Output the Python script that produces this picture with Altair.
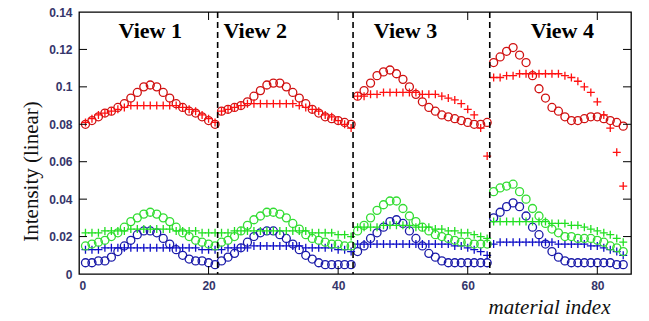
import altair as alt
import pandas as pd

# material index (21 materials per view, 4 views)
x_index = list(range(1, 85))

red_circles = [
    0.080, 0.082, 0.084, 0.086, 0.087, 0.089, 0.091, 0.094, 0.097, 0.100, 0.101,
    0.100, 0.097, 0.094, 0.091, 0.089, 0.087, 0.086, 0.084, 0.082, 0.080,
    0.087, 0.088, 0.089, 0.090, 0.092, 0.095, 0.098, 0.101, 0.102, 0.102, 0.100,
    0.097, 0.094, 0.091, 0.088, 0.086, 0.084, 0.083, 0.082, 0.081, 0.080,
    0.095, 0.098, 0.102, 0.106, 0.108, 0.109, 0.107, 0.104, 0.100, 0.096, 0.092,
    0.089, 0.087, 0.085, 0.084, 0.083, 0.082, 0.081, 0.080, 0.080, 0.081,
    0.113, 0.116, 0.119, 0.121, 0.117, 0.113, 0.106, 0.099, 0.094, 0.089, 0.087,
    0.084, 0.082, 0.082, 0.083, 0.084, 0.084, 0.083, 0.082, 0.081, 0.079,
]
red_plus = [
    0.081, 0.083, 0.085, 0.086, 0.087, 0.088, 0.089, 0.090, 0.090, 0.090, 0.090,
    0.090, 0.090, 0.090, 0.090, 0.089, 0.088, 0.087, 0.085, 0.083, 0.081,
    0.087, 0.088, 0.089, 0.090, 0.091, 0.091, 0.091, 0.091, 0.091, 0.091, 0.091,
    0.091, 0.090, 0.089, 0.088, 0.087, 0.085, 0.084, 0.082, 0.080, 0.078,
    0.095, 0.095, 0.096, 0.096, 0.097, 0.097, 0.097, 0.097, 0.097, 0.097, 0.096,
    0.096, 0.096, 0.095, 0.094, 0.093, 0.091, 0.088, 0.085, 0.078, 0.063,
    0.105, 0.105, 0.106, 0.106, 0.107, 0.107, 0.107, 0.107, 0.107, 0.107, 0.107,
    0.106, 0.105, 0.103, 0.100, 0.097, 0.092, 0.085, 0.078, 0.065, 0.047,
]
green_circles = [
    0.015, 0.016, 0.017, 0.018, 0.020, 0.022, 0.025, 0.028, 0.030, 0.032, 0.033,
    0.032, 0.030, 0.028, 0.025, 0.022, 0.020, 0.018, 0.017, 0.016, 0.015,
    0.017, 0.018, 0.020, 0.023, 0.026, 0.029, 0.031, 0.033, 0.033, 0.032, 0.030,
    0.027, 0.024, 0.021, 0.019, 0.018, 0.017, 0.016, 0.016, 0.015, 0.015,
    0.023, 0.026, 0.030, 0.034, 0.037, 0.039, 0.039, 0.035, 0.031, 0.028, 0.025,
    0.023, 0.021, 0.020, 0.019, 0.018, 0.017, 0.017, 0.016, 0.016, 0.016,
    0.044, 0.046, 0.047, 0.048, 0.044, 0.040, 0.035, 0.031, 0.027, 0.024, 0.022,
    0.020, 0.020, 0.019, 0.019, 0.019, 0.018, 0.017, 0.015, 0.014, 0.012,
]
green_plus = [
    0.022, 0.022, 0.022, 0.023, 0.023, 0.023, 0.023, 0.024, 0.024, 0.024, 0.024,
    0.024, 0.024, 0.024, 0.023, 0.023, 0.023, 0.023, 0.022, 0.022, 0.022,
    0.022, 0.022, 0.023, 0.023, 0.023, 0.023, 0.023, 0.023, 0.023, 0.023, 0.023,
    0.023, 0.023, 0.023, 0.022, 0.022, 0.022, 0.022, 0.021, 0.021, 0.020,
    0.025, 0.025, 0.025, 0.025, 0.026, 0.026, 0.026, 0.026, 0.026, 0.025, 0.025,
    0.025, 0.024, 0.024, 0.023, 0.023, 0.022, 0.022, 0.021, 0.020, 0.019,
    0.028, 0.028, 0.028, 0.028, 0.028, 0.028, 0.028, 0.028, 0.028, 0.027, 0.027,
    0.027, 0.026, 0.026, 0.025, 0.024, 0.023, 0.022, 0.021, 0.019, 0.017,
]
blue_circles = [
    0.006, 0.006, 0.007, 0.007, 0.009, 0.012, 0.015, 0.018, 0.021, 0.023, 0.023,
    0.022, 0.019, 0.016, 0.013, 0.010, 0.008, 0.007, 0.007, 0.006, 0.005,
    0.007, 0.009, 0.011, 0.014, 0.017, 0.020, 0.022, 0.023, 0.023, 0.021, 0.019,
    0.016, 0.013, 0.010, 0.008, 0.006, 0.005, 0.005, 0.005, 0.005, 0.005,
    0.012, 0.015, 0.019, 0.022, 0.025, 0.028, 0.029, 0.027, 0.023, 0.019, 0.015,
    0.011, 0.009, 0.007, 0.006, 0.006, 0.006, 0.006, 0.006, 0.006, 0.006,
    0.030, 0.033, 0.036, 0.038, 0.036, 0.031, 0.025, 0.021, 0.016, 0.012, 0.009,
    0.007, 0.006, 0.006, 0.006, 0.006, 0.006, 0.006, 0.006, 0.005, 0.005,
]
blue_plus = [
    0.013, 0.013, 0.013, 0.014, 0.014, 0.014, 0.014, 0.014, 0.014, 0.014, 0.014,
    0.014, 0.014, 0.014, 0.014, 0.014, 0.014, 0.014, 0.013, 0.013, 0.013,
    0.013, 0.014, 0.014, 0.014, 0.014, 0.015, 0.015, 0.015, 0.015, 0.015, 0.015,
    0.015, 0.015, 0.014, 0.014, 0.014, 0.014, 0.014, 0.013, 0.013, 0.012,
    0.016, 0.016, 0.016, 0.016, 0.016, 0.016, 0.016, 0.016, 0.016, 0.016, 0.016,
    0.016, 0.016, 0.016, 0.016, 0.015, 0.015, 0.014, 0.013, 0.012, 0.010,
    0.016, 0.017, 0.017, 0.017, 0.017, 0.017, 0.017, 0.017, 0.017, 0.017, 0.016,
    0.016, 0.016, 0.016, 0.016, 0.015, 0.015, 0.014, 0.013, 0.012, 0.010,
]

view_labels = ["View 1", "View 2", "View 3", "View 4"]
view_label_x = [11.0, 27.2, 50.4, 74.6]
view_label_y = [0.130, 0.130, 0.130, 0.130]
view_borders = [21.4, 42.3, 63.4]

y_ticks = [0, 0.02, 0.04, 0.06, 0.08, 0.1, 0.12, 0.14]
x_ticks = [0, 20, 40, 60, 80]

W, H = 552, 262
X_DOMAIN = [0, 85.2]
Y_DOMAIN = [0, 0.14]

series = [
    ("blue_plus", blue_plus, "#1010c8", "plus"),
    ("green_plus", green_plus, "#22e022", "plus"),
    ("red_plus", red_plus, "#ff1010", "plus"),
    ("blue_circles", blue_circles, "#1a1aa8", "circle"),
    ("green_circles", green_circles, "#33dd33", "circle"),
    ("red_circles", red_circles, "#d01010", "circle"),
]

rows = []
for name, vals, col, shp in series:
    for xi, v in zip(x_index, vals):
        rows.append({"x": xi, "y": v, "series": name})
df = pd.DataFrame(rows)

PLUS = "M-1,0L1,0M0,-1L0,1"
xs = alt.Scale(domain=X_DOMAIN, nice=False, zero=False)
ys = alt.Scale(domain=Y_DOMAIN, nice=False)

X_AX = alt.Axis(
    values=x_ticks, format="d", ticks=False, domain=False, grid=False,
    labelFont="Liberation Sans", labelFontWeight="bold", labelFontSize=12,
    labelColor="#35356a", labelPadding=6,
    title="material index", titleFont="Liberation Serif", titleFontStyle="italic",
    titleFontWeight="normal", titleFontSize=21, titleColor="#111111",
    titleX=470, titleY=33, titleAlign="center", titleBaseline="middle")
Y_AX = alt.Axis(
    values=y_ticks, format=".2~f", ticks=False, domain=False, grid=False,
    labelFont="Liberation Sans", labelFontWeight="bold", labelFontSize=12,
    labelColor="#35356a", labelPadding=7,
    title="Intensity (linear)", titleFont="Liberation Serif",
    titleFontWeight="normal", titleFontSize=21, titleColor="#111111",
    titleX=-48, titleY=159, titleAngle=270, titleAlign="center",
    titleBaseline="middle")

points = alt.Chart(df).mark_point(filled=False, strokeWidth=1.3, size=64, opacity=1).encode(
    x=alt.X("x:Q", scale=xs, axis=X_AX),
    y=alt.Y("y:Q", scale=ys, axis=Y_AX),
    color=alt.Color("series:N", legend=None,
                    scale=alt.Scale(domain=[s[0] for s in series], range=[s[2] for s in series])),
    shape=alt.Shape("series:N", legend=None,
                    scale=alt.Scale(domain=[s[0] for s in series],
                                    range=[PLUS if s[3] == "plus" else "circle" for s in series])),
    order=alt.Order("series:N"),
)

borders = alt.Chart(pd.DataFrame({"x": view_borders})).mark_rule(
    color="black", strokeWidth=1.6, strokeDash=[6, 4]).encode(
    x=alt.X("x:Q", scale=xs, axis=X_AX))

labels = alt.Chart(pd.DataFrame({"t": view_labels, "x": view_label_x, "y": view_label_y})).mark_text(
    font="Liberation Serif", fontWeight="bold", fontSize=22, color="black", baseline="middle").encode(
    x=alt.X("x:Q", scale=xs, axis=X_AX), y=alt.Y("y:Q", scale=ys, axis=Y_AX), text="t:N")

yt = pd.DataFrame({"y": y_ticks[1:-1]})
xt = pd.DataFrame({"x": x_ticks[1:]})
tick_style = dict(color="black", strokeWidth=1)
left_ticks = alt.Chart(yt).mark_rule(**tick_style).encode(
    y=alt.Y("y:Q", scale=ys, axis=Y_AX), x=alt.value(0), x2=alt.value(8))
right_ticks = alt.Chart(yt).mark_rule(**tick_style).encode(
    y=alt.Y("y:Q", scale=ys, axis=Y_AX), x=alt.value(W - 8), x2=alt.value(W))
bottom_ticks = alt.Chart(xt).mark_rule(**tick_style).encode(
    x=alt.X("x:Q", scale=xs, axis=X_AX), y=alt.value(H), y2=alt.value(H - 8))
top_ticks = alt.Chart(xt).mark_rule(**tick_style).encode(
    x=alt.X("x:Q", scale=xs, axis=X_AX), y=alt.value(0), y2=alt.value(8))

chart = alt.layer(
    points, borders, labels, left_ticks, right_ticks, bottom_ticks, top_ticks
).properties(
    width=W, height=H,
    autosize=alt.AutoSizeParams(type="none"),
    padding={"left": 79, "top": 12, "right": 18, "bottom": 47},
    background="white",
).configure_view(stroke="black", strokeWidth=1.3)

chart.save("out.html", embed_options={"renderer": "svg", "actions": False})
